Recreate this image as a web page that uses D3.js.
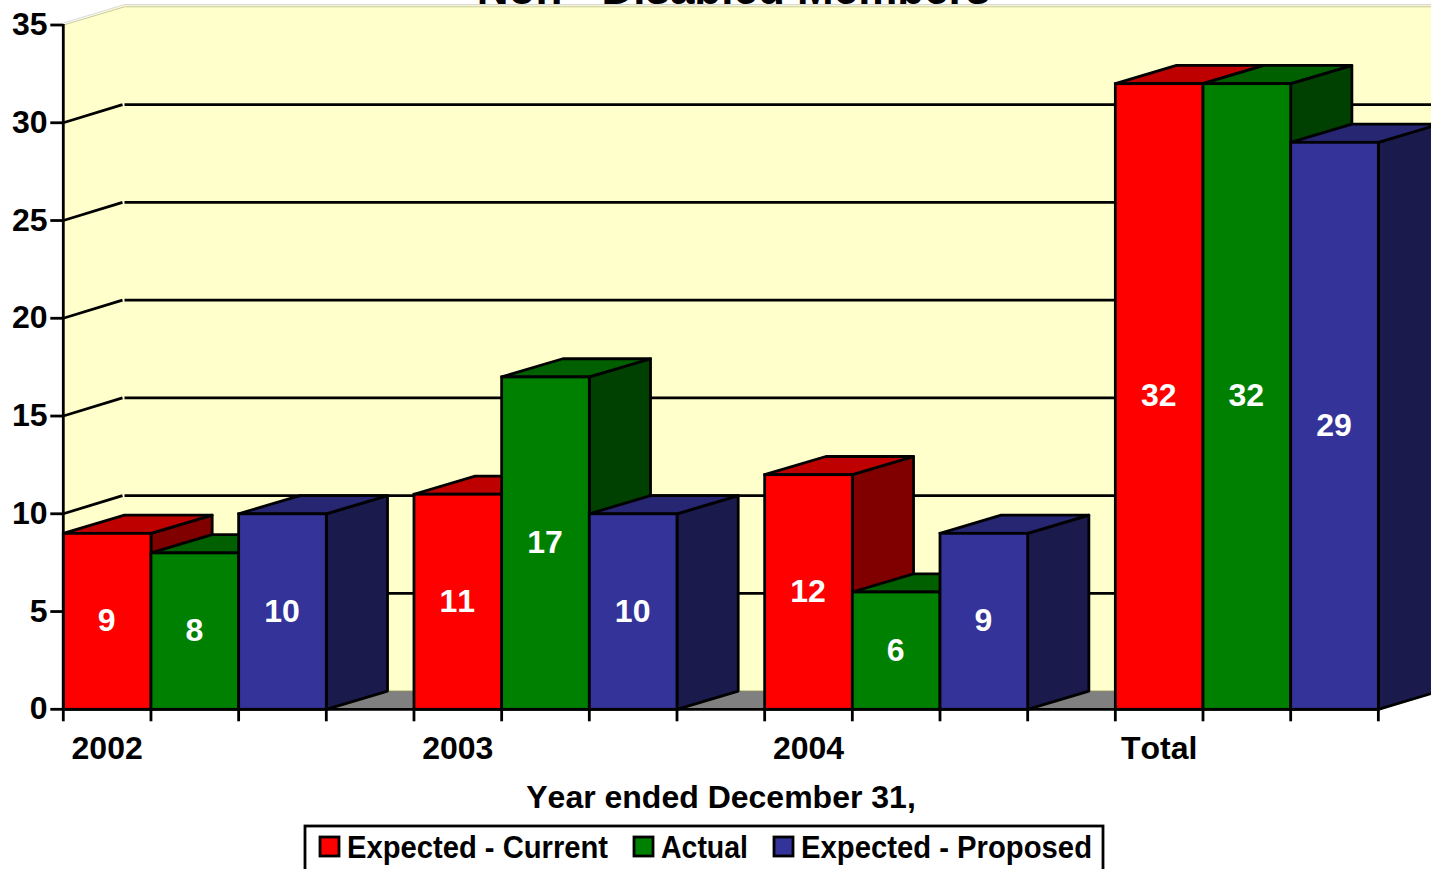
<!DOCTYPE html>
<html><head><meta charset="utf-8">
<script src="https://cdn.jsdelivr.net/npm/d3@7/dist/d3.min.js"></script>
<style>html,body{margin:0;padding:0;background:#fff;overflow:hidden}svg{display:block}text{font-family:"Liberation Sans",Arial,sans-serif;font-weight:bold;font-kerning:none}</style>
</head><body><svg id="c" width="1431" height="869"></svg>
<script>
const categories = ["2002","2003","2004","Total"];
const seriesNames = ["Expected - Current","Actual","Expected - Proposed"];
const expectedCurrent = [9,11,12,32];
const actual = [8,17,6,32];
const expectedProposed = [10,10,9,29];
const yTicks = [0,5,10,15,20,25,30,35];
const titleText = "Non - Disabled Members";
const xTitle = "Year ended December 31,";

const series = [expectedCurrent, actual, expectedProposed];
const front = ["#ff0000","#008000","#333399"], top_ = ["#bf0000","#006000","#262673"], side = ["#800000","#004000","#1a1a4d"];
const svg = d3.select("#c");
const y = d3.scaleLinear().domain([0,35]).range([709.3,25]);
const slot = 87.67, x0 = 63.3, dx = 61.2, dy = 18.2;
const x = d3.scaleLinear().domain([0,16]).range([x0, x0+16*slot]);
const SW = 2.8;
const poly = (pts,fill,sw=0,st="#000")=>svg.append("polygon").attr("points",pts.map(p=>p.join(",")).join(" ")).attr("fill",fill).attr("stroke",sw?st:"none").attr("stroke-width",sw).attr("stroke-linejoin","round");
const line = (a,b,c,d,w=SW,st="#000")=>svg.append("line").attr("x1",a).attr("y1",b).attr("x2",c).attr("y2",d).attr("stroke",st).attr("stroke-width",w);

// title (the reference cuts it off at the top of the page)
svg.append("text").attr("x",733.5).attr("y",4).attr("text-anchor","middle").attr("font-size",44).text(titleText);

// walls
const xEnd = x(15), R = xEnd + dx;
poly([[x0,y(35)],[x0+dx,y(35)-dy-2],[R,y(35)-dy-2],[R,y(0)-dy],[x0+dx,y(0)-dy],[x0,y(0)]],"#ffffcc");
line(x0+dx,y(35)-dy,R,y(35)-dy,1,"#c8c8a0");
line(x0,y(35),x0+dx,y(35)-dy,1,"#c8c8a0");
line(x0+dx,y(35)-dy-2.2,R,y(35)-dy-2.2,1.2,"#d8d8d8");
line(x0,y(35)-2,x0+dx,y(35)-dy-2.2,1,"#d8d8d8");
// floor
poly([[x0,y(0)],[x0+dx,y(0)-dy],[R,y(0)-dy],[xEnd,y(0)]],"#808080");
line(x0+dx,y(0)-dy,R,y(0)-dy,1,"#8a8a60");

// grid
yTicks.filter(v=>v>0&&v<35).forEach(v=>{
  line(x0,y(v),x0+dx-2,y(v)-dy,SW);
  line(x0+dx,y(v)-dy,R,y(v)-dy,SW);
});

// bars
categories.forEach((c,ci)=>{
  series.forEach((s,si)=>{
    const v=s[ci], a=x(ci*4+si), b=x(ci*4+si+1), t=y(v), z=y(0);
    poly([[b,t],[b+dx,t-dy],[b+dx,z-dy],[b,z]],side[si],SW);
    poly([[a,t],[a+dx,t-dy],[b+dx,t-dy],[b,t]],top_[si],SW);
    svg.append("rect").attr("x",a).attr("y",t).attr("width",b-a).attr("height",z-t).attr("fill",front[si]).attr("stroke","#000").attr("stroke-width",SW);
  });
});
// labels on bars
categories.forEach((c,ci)=>{
  series.forEach((s,si)=>{
    const v=s[ci];
    svg.append("text").attr("x",(x(ci*4+si)+x(ci*4+si+1))/2-0.5).attr("y",(y(v)+y(0))/2+10).attr("text-anchor","middle").attr("font-size",32).attr("fill","#fff").text(v);
  });
});

// axes
line(x0,y(35)-1,x0,y(0),SW);
line(x0,y(0),xEnd,y(0),SW);
yTicks.forEach(v=>{
  line(x0-13,y(v),x0,y(v),SW);
  svg.append("text").attr("x",47.5).attr("y",y(v)+10).attr("text-anchor","end").attr("font-size",32).text(v);
});
d3.range(0,16).forEach(i=>line(x(i),y(0),x(i),y(0)+12,SW));
categories.forEach((c,ci)=>svg.append("text").attr("x",(x(ci*4)+x(ci*4+1))/2).attr("y",759).attr("text-anchor","middle").attr("font-size",32).text(c));
svg.append("text").attr("x",721).attr("y",808).attr("text-anchor","middle").attr("font-size",32).text(xTitle);

// legend
svg.append("rect").attr("x",305).attr("y",826).attr("width",798).attr("height",60).attr("fill","#fff").attr("stroke","#000").attr("stroke-width",SW);
const lx=[320,634,774], tx=[347,661,801], tw=[261,87,291];
seriesNames.forEach((n,i)=>{
  svg.append("rect").attr("x",lx[i]).attr("y",837).attr("width",19).attr("height",19).attr("fill",front[i]).attr("stroke","#000").attr("stroke-width",SW);
  svg.append("text").attr("x",tx[i]).attr("y",858).attr("font-size",32).attr("textLength",tw[i]).attr("lengthAdjust","spacingAndGlyphs").text(n);
});
</script></body></html>
